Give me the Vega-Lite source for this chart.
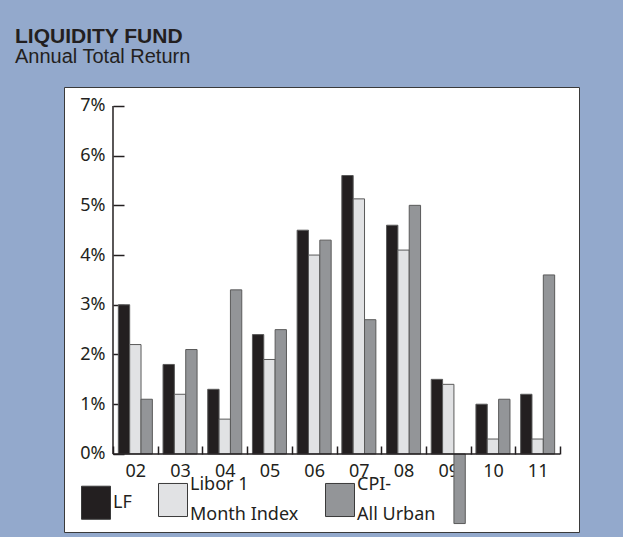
{
  "$schema": "https://vega.github.io/schema/vega-lite/v6.json",
  "width": 515,
  "height": 445,
  "autosize": {"type": "none"},
  "padding": {"left": 64, "top": 87, "right": 44, "bottom": 5},
  "background": "#93a9cc",
  "title": {
    "text": "LIQUIDITY FUND",
    "subtitle": "Annual Total Return",
    "anchor": "start",
    "frame": "group",
    "dx": -49,
    "offset": 20,
    "font": "Liberation Sans",
    "fontSize": 21,
    "fontWeight": "bold",
    "color": "#231f20",
    "subtitleFont": "Liberation Sans",
    "subtitleFontSize": 20,
    "subtitleColor": "#231f20",
    "subtitlePadding": 0
  },
  "config": {
    "view": {"fill": "white", "stroke": "#3a3a3a", "strokeWidth": 1},
    "style": {"guide-label": {"lineHeight": 30}}
  },
  "layer": [
    {
      "data": {
        "values": [
          {"year": "02", "series": "LF", "value": 3.0},
          {"year": "02", "series": "Libor 1 Month Index", "value": 2.2},
          {"year": "02", "series": "CPI-All Urban", "value": 1.1},
          {"year": "03", "series": "LF", "value": 1.8},
          {"year": "03", "series": "Libor 1 Month Index", "value": 1.2},
          {"year": "03", "series": "CPI-All Urban", "value": 2.1},
          {"year": "04", "series": "LF", "value": 1.3},
          {"year": "04", "series": "Libor 1 Month Index", "value": 0.7},
          {"year": "04", "series": "CPI-All Urban", "value": 3.3},
          {"year": "05", "series": "LF", "value": 2.4},
          {"year": "05", "series": "Libor 1 Month Index", "value": 1.9},
          {"year": "05", "series": "CPI-All Urban", "value": 2.5},
          {"year": "06", "series": "LF", "value": 4.5},
          {"year": "06", "series": "Libor 1 Month Index", "value": 4.0},
          {"year": "06", "series": "CPI-All Urban", "value": 4.3},
          {"year": "07", "series": "LF", "value": 5.6},
          {"year": "07", "series": "Libor 1 Month Index", "value": 5.13},
          {"year": "07", "series": "CPI-All Urban", "value": 2.7},
          {"year": "08", "series": "LF", "value": 4.6},
          {"year": "08", "series": "Libor 1 Month Index", "value": 4.1},
          {"year": "08", "series": "CPI-All Urban", "value": 5.0},
          {"year": "09", "series": "LF", "value": 1.5},
          {"year": "09", "series": "Libor 1 Month Index", "value": 1.4},
          {"year": "09", "series": "CPI-All Urban", "value": -1.4},
          {"year": "10", "series": "LF", "value": 1.0},
          {"year": "10", "series": "Libor 1 Month Index", "value": 0.3},
          {"year": "10", "series": "CPI-All Urban", "value": 1.1},
          {"year": "11", "series": "LF", "value": 1.2},
          {"year": "11", "series": "Libor 1 Month Index", "value": 0.3},
          {"year": "11", "series": "CPI-All Urban", "value": 3.6}
        ]
      },
      "mark": {"type": "bar", "stroke": "#5a5a5a", "strokeWidth": 1},
      "encoding": {
        "x": {
          "field": "year",
          "type": "nominal",
          "title": null,
          "scale": {"paddingInner": 0, "paddingOuter": 0.7606, "align": 0.7206},
          "axis": {
            "title": null,
            "orient": "bottom",
            "offset": -78,
            "domain": false,
            "grid": false,
            "tickBand": "extent",
            "tickSize": -8,
            "tickColor": "#231f20",
            "tickWidth": 1.5,
            "labelPadding": 16,
            "labelAngle": 0,
            "labelFont": "Noto Sans",
            "labelFontSize": 18,
            "labelColor": "#231f20"
          }
        },
        "xOffset": {
          "field": "series",
          "type": "nominal",
          "sort": ["LF", "Libor 1 Month Index", "CPI-All Urban"],
          "scale": {"paddingOuter": 0.47, "paddingInner": 0}
        },
        "y": {
          "field": "value",
          "type": "quantitative",
          "title": null,
          "scale": {"domain": [-1.57, 7.38], "nice": false, "zero": false},
          "axis": {
            "title": null,
            "values": [0, 1, 2, 3, 4, 5, 6, 7],
            "labelExpr": "datum.value + '%'",
            "domain": false,
            "grid": false,
            "offset": -49,
            "tickSize": -11,
            "tickColor": "#231f20",
            "tickWidth": 1.5,
            "labelPadding": 19,
            "labelFont": "Noto Sans",
            "labelFontSize": 18,
            "labelColor": "#231f20"
          }
        },
        "color": {
          "field": "series",
          "type": "nominal",
          "sort": ["LF", "Libor 1 Month Index", "CPI-All Urban"],
          "scale": {
            "domain": ["LF", "Libor 1 Month Index", "CPI-All Urban"],
            "range": ["#231f20", "#e1e2e4", "#939598"]
          },
          "legend": {
            "title": null,
            "orient": "none",
            "legendX": 17,
            "legendY": 398,
            "direction": "horizontal",
            "padding": 0,
            "symbolType": "M-1,-1.14H1V1.14H-1Z",
            "symbolSize": 841,
            "symbolStrokeColor": "#3a3a3a",
            "symbolStrokeWidth": 1,
            "symbolOpacity": 1,
            "labelFont": "Noto Sans",
            "labelFontSize": 18,
            "labelColor": "#231f20",
            "labelOffset": 2,
            "labelLimit": 0,
            "labelBaseline": {"expr": "datum.label == 'LF' ? 'middle' : 'line-bottom'"},
            "columnPadding": 24,
            "labelExpr": "datum.label == 'LF' ? 'LF' : (datum.label == 'CPI-All Urban' ? ['CPI-', 'All Urban'] : ['Libor 1', 'Month Index'])"
          }
        }
      }
    },
    {
      "data": {"values": [{"start": "02", "end": "11", "low": 0, "high": 7}]},
      "mark": {"type": "rule", "color": "#231f20", "strokeWidth": 1.5},
      "encoding": {
        "x": {"field": "start", "type": "nominal", "bandPosition": 0, "title": null},
        "y": {"field": "low", "type": "quantitative", "title": null},
        "y2": {"field": "high"}
      }
    },
    {
      "data": {"values": [{"start": "02", "end": "11", "low": 0, "high": 7}]},
      "mark": {"type": "rule", "color": "#231f20", "strokeWidth": 1.5},
      "encoding": {
        "x": {"field": "start", "type": "nominal", "bandPosition": 0, "title": null},
        "x2": {"field": "end", "bandPosition": 1},
        "y": {"field": "low", "type": "quantitative", "title": null}
      }
    }
  ]
}
